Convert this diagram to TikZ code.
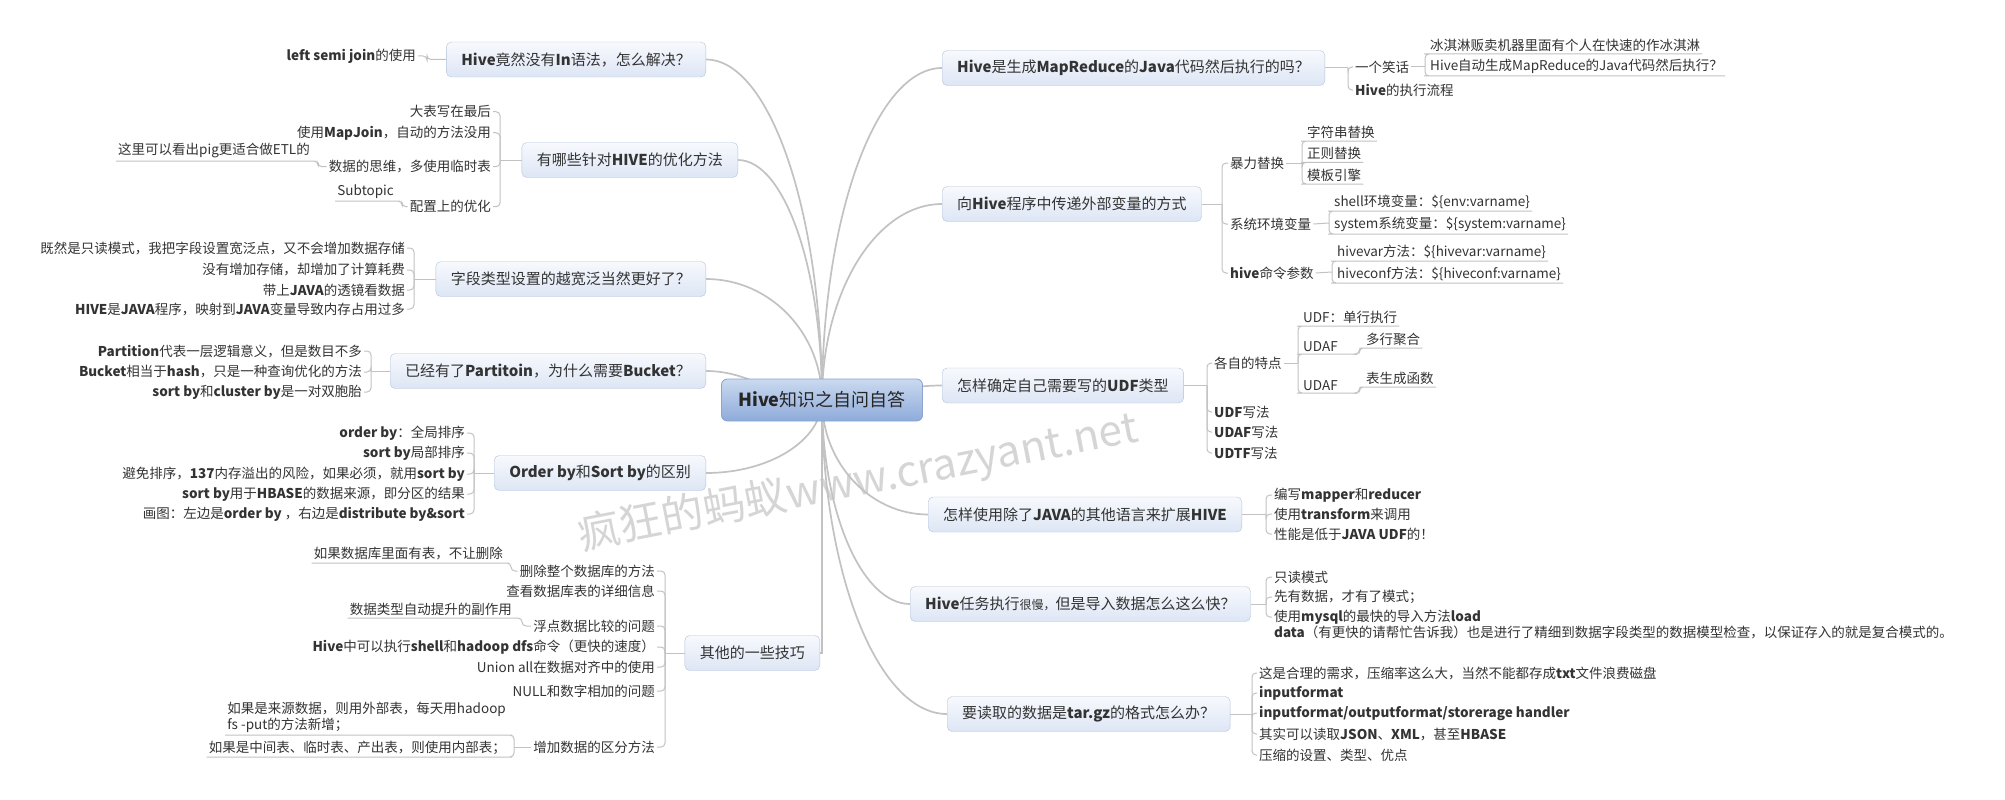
\documentclass[tikz,border=0pt]{standalone}
\usepackage{fontspec}
\setmainfont{Noto Sans CJK SC}
\usepackage{xcolor}
\definecolor{cText}{HTML}{333333}
\definecolor{cLine}{HTML}{C2C2C2}
\definecolor{cBoxTop}{HTML}{F7F9FD}
\definecolor{cBoxBot}{HTML}{DDE6F5}
\definecolor{cBoxLine}{HTML}{B5C4DB}
\definecolor{cRootTop}{HTML}{CAD9EF}
\definecolor{cRootBot}{HTML}{8EABDB}
\definecolor{cRootLine}{HTML}{8AA4CE}
\definecolor{cMark}{HTML}{C4C4C4}
\usetikzlibrary{positioning,calc,backgrounds}
\tikzset{
  node-root/.style={draw=cRootLine,thick,rounded corners=6pt,top color=cRootTop,
    bottom color=cRootBot,minimum height=42pt,inner xsep=17pt,
    font=\fontsize{18}{21}\selectfont,text=black!85},
  node-topic/.style={draw=cBoxLine,rounded corners=5pt,top color=cBoxTop,
    bottom color=cBoxBot,minimum height=35pt,inner xsep=15pt,
    font=\fontsize{15}{18}\selectfont,text=cText},
  node-leaf/.style={inner sep=2pt,font=\fontsize{13.5}{16}\selectfont,text=cText,align=left},
  node-ul/.style={node-leaf,inner ysep=2.5pt},
  branch/.style={draw=cLine,line width=1.7pt},
  twig/.style={draw=cLine,line width=1pt,rounded corners=4pt},
}
\newcommand{\kw}[1]{\textbf{#1}}
\begin{document}
\begin{tikzpicture}[x=1pt,y=1pt]
  \useasboundingbox (0,0) rectangle (2005,-800);
  % root and main topics
  \node[node-root] (root) at (822,-400) {\kw{Hive}知识之自问自答};
  \node[node-topic,anchor=east] (qIn) at (706,-59.5) {\kw{Hive}竟然没有\kw{In}语法，怎么解决？};
  \node[node-topic,anchor=east] (qOpt) at (738,-160) {有哪些针对\kw{HIVE}的优化方法};
  \node[node-topic,anchor=east] (qType) at (706,-279) {字段类型设置的越宽泛当然更好了？};
  \node[node-topic,anchor=east] (qBucket) at (706,-371) {已经有了\kw{Partitoin}，为什么需要\kw{Bucket}？};
  \node[node-topic,anchor=east] (qOrder) at (706,-473) {\kw{Order by}和\kw{Sort by}的区别};
  \node[node-topic,anchor=east] (qTips) at (820,-653) {其他的一些技巧};
  \node[node-topic,anchor=west] (qMR) at (942,-68) {\kw{Hive}是生成\kw{MapReduce}的\kw{Java}代码然后执行的吗？};
  \node[node-topic,anchor=west] (qVar) at (942,-204) {向\kw{Hive}程序中传递外部变量的方式};
  \node[node-topic,anchor=west] (qUdf) at (942,-385.5) {怎样确定自己需要写的\kw{UDF}类型};
  \node[node-topic,anchor=west] (qLang) at (928,-514.5) {怎样使用除了\kw{JAVA}的其他语言来扩展\kw{HIVE}};
  \node[node-topic,anchor=west] (qLoad) at (910,-604) {\kw{Hive}任务执行{\fontsize{12}{14}\selectfont 很慢，}但是导入数据怎么这么快？};
  \node[node-topic,anchor=west] (qGz) at (947,-714) {要读取的数据是\kw{tar.gz}的格式怎么办？};

  % left leaves
  \node[node-leaf,anchor=east] (inA) at (418,-56) {\kw{left semi join}的使用};

  \node[node-leaf,anchor=east] (optA) at (493,-111.7) {大表写在最后};
  \node[node-leaf,anchor=east] (optB) at (493,-132.7) {使用\kw{MapJoin}，自动的方法没用};
  \node[node-leaf,anchor=east] (optC) at (493,-166.7) {数据的思维，多使用临时表};
  \node[node-leaf,anchor=east] (optD) at (493,-206.7) {配置上的优化};
  \node[node-ul,anchor=south east] (optC1) at (312,-161) {这里可以看出pig更适合做ETL的};
  \node[node-ul,anchor=south east] (optD1) at (396,-201) {Subtopic};

  \node[node-leaf,anchor=east] (typeA) at (407,-248) {既然是只读模式，我把字段设置宽泛点，又不会增加数据存储};
  \node[node-leaf,anchor=east] (typeB) at (407,-270) {没有增加存储，却增加了计算耗费};
  \node[node-leaf,anchor=east] (typeC) at (407,-290) {带上\kw{JAVA}的透镜看数据};
  \node[node-leaf,anchor=east] (typeD) at (407,-309) {\kw{HIVE}是\kw{JAVA}程序，映射到\kw{JAVA}变量导致内存占用过多};

  \node[node-leaf,anchor=east] (bktA) at (364,-351) {\kw{Partition}代表一层逻辑意义，但是数目不多};
  \node[node-leaf,anchor=east] (bktB) at (364,-372) {\kw{Bucket}相当于\kw{hash}，只是一种查询优化的方法};
  \node[node-leaf,anchor=east] (bktC) at (364,-392) {\kw{sort by}和\kw{cluster by}是一对双胞胎};

  \node[node-leaf,anchor=east] (ordA) at (467,-433) {\kw{order by}：全局排序};
  \node[node-leaf,anchor=east] (ordB) at (467,-453) {\kw{sort by}局部排序};
  \node[node-leaf,anchor=east] (ordC) at (467,-474) {避免排序，\kw{137}内存溢出的风险，如果必须，就用\kw{sort by}};
  \node[node-leaf,anchor=east] (ordD) at (467,-494) {\kw{sort by}用于\kw{HBASE}的数据来源，即分区的结果};
  \node[node-leaf,anchor=east] (ordE) at (467,-514) {画图：左边是\kw{order by} ，右边是\kw{distribute by\&sort}};

  \node[node-leaf,anchor=east] (tipA) at (657,-571) {删除整个数据库的方法};
  \node[node-leaf,anchor=east] (tipB) at (657,-591) {查看数据库表的详细信息};
  \node[node-leaf,anchor=east] (tipC) at (657,-626) {浮点数据比较的问题};
  \node[node-leaf,anchor=east] (tipD) at (657,-647) {\kw{Hive}中可以执行\kw{shell}和\kw{hadoop dfs}命令（更快的速度）};
  \node[node-leaf,anchor=east] (tipE) at (657,-667) {Union all在数据对齐中的使用};
  \node[node-leaf,anchor=east] (tipF) at (657,-691) {NULL和数字相加的问题};
  \node[node-leaf,anchor=east] (tipG) at (657,-747) {增加数据的区分方法};
  \node[node-ul,anchor=south east] (tipA1) at (505,-563) {如果数据库里面有表，不让删除};
  \node[node-ul,anchor=south east] (tipC1) at (514,-618) {数据类型自动提升的副作用};
  \node[node-ul,anchor=south east] (tipG1) at (508,-735) {如果是来源数据，则用外部表，每天用hadoop\\fs -put的方法新增；};
  \node[node-ul,anchor=south east] (tipG2) at (508,-757) {如果是中间表、临时表、产出表，则使用内部表；};

  % right leaves
  \node[node-leaf,anchor=west] (mrA) at (1353,-67) {一个笑话};
  \node[node-leaf,anchor=west] (mrB) at (1353,-90) {\kw{Hive}的执行流程};
  \node[node-ul,anchor=south west] (mrA1) at (1428,-54) {冰淇淋贩卖机器里面有个人在快速的作冰淇淋};
  \node[node-ul,anchor=south west] (mrA2) at (1428,-76) {Hive自动生成MapReduce的Java代码然后执行？};

  \node[node-leaf,anchor=west] (varA) at (1228,-163) {暴力替换};
  \node[node-leaf,anchor=west] (varB) at (1228,-224) {系统环境变量};
  \node[node-leaf,anchor=west] (varC) at (1228,-273) {\kw{hive}命令参数};
  \node[node-ul,anchor=south west] (varA1) at (1305,-141) {字符串替换};
  \node[node-ul,anchor=south west] (varA2) at (1305,-162.3) {正则替换};
  \node[node-ul,anchor=south west] (varA3) at (1305,-184) {模板引擎};
  \node[node-ul,anchor=south west] (varB1) at (1332,-211) {shell环境变量：\$\{env:varname\}};
  \node[node-ul,anchor=south west] (varB2) at (1332,-234) {system系统变量：\$\{system:varname\}};
  \node[node-ul,anchor=south west] (varC1) at (1335,-261) {hivevar方法：\$\{hivevar:varname\}};
  \node[node-ul,anchor=south west] (varC2) at (1335,-283) {hiveconf方法：\$\{hiveconf:varname\}};

  \node[node-leaf,anchor=west] (udfA) at (1212,-363) {各自的特点};
  \node[node-leaf,anchor=west] (udfB) at (1212,-412) {\kw{UDF}写法};
  \node[node-leaf,anchor=west] (udfC) at (1212,-432) {\kw{UDAF}写法};
  \node[node-leaf,anchor=west] (udfD) at (1212,-453) {\kw{UDTF}写法};
  \node[node-ul,anchor=south west] (udfA1) at (1301,-326) {UDF：单行执行};
  \node[node-ul,anchor=south west,text width=52pt] (udfA2) at (1301,-354) {UDAF};
  \node[node-ul,anchor=south west,text width=52pt] (udfA3) at (1301,-393) {UDAF};
  \node[node-ul,anchor=south west] (udfA21) at (1364,-348) {多行聚合};
  \node[node-ul,anchor=south west] (udfA31) at (1364,-387) {表生成函数};

  \node[node-leaf,anchor=west] (langA) at (1272,-495) {编写\kw{mapper}和\kw{reducer}};
  \node[node-leaf,anchor=west] (langB) at (1272,-514) {使用\kw{transform}来调用};
  \node[node-leaf,anchor=west] (langC) at (1272,-534) {性能是低于\kw{JAVA UDF}的！};

  \node[node-leaf,anchor=west] (loadA) at (1272,-577) {只读模式};
  \node[node-leaf,anchor=west] (loadB) at (1272,-597) {先有数据，才有了模式；};
  \node[node-leaf,anchor=north west] (loadC) at (1272,-608) {使用\kw{mysql}的最快的导入方法\kw{load}\\\kw{data}（有更快的请帮忙告诉我）也是进行了精细到数据字段类型的数据模型检查，以保证存入的就是复合模式的。};

  \node[node-leaf,anchor=west] (gzA) at (1257,-673) {这是合理的需求，压缩率这么大，当然不能都存成\kw{txt}文件浪费磁盘};
  \node[node-leaf,anchor=west] (gzB) at (1257,-693) {\kw{inputformat}};
  \node[node-leaf,anchor=west] (gzC) at (1257,-713) {\kw{inputformat/outputformat/storerage handler}};
  \node[node-leaf,anchor=west] (gzD) at (1257,-734) {其实可以读取\kw{JSON}、\kw{XML}，甚至\kw{HBASE}};
  \node[node-leaf,anchor=west] (gzE) at (1257,-755) {压缩的设置、类型、优点};

  % trunks of the leaf brackets
  \coordinate (tIn) at (427,-59.5);
  \coordinate (tOpt) at (500,-160);
  \coordinate (tOptC) at (318,-166.7);
  \coordinate (tOptD) at (402,-206.7);
  \coordinate (tType) at (414,-279);
  \coordinate (tBucket) at (371,-371);
  \coordinate (tOrder) at (474,-473);
  \coordinate (tTips) at (665,-653);
  \coordinate (tTipA) at (511,-571);
  \coordinate (tTipC) at (522,-626);
  \coordinate (tTipG) at (514,-747);
  \coordinate (tMR) at (1348,-68);
  \coordinate (tMRA) at (1425,-67);
  \coordinate (tVar) at (1222,-204);
  \coordinate (tVarA) at (1302,-163);
  \coordinate (tVarB) at (1329,-223);
  \coordinate (tVarC) at (1332,-272);
  \coordinate (tUdf) at (1207,-385.5);
  \coordinate (tUdfA) at (1298,-363);
  \coordinate (tLang) at (1266,-514.5);
  \coordinate (tLoad) at (1266,-604);
  \coordinate (tGz) at (1252,-714);

  \begin{scope}[on background layer]
    \fill[white] (0,0) rectangle (2005,-800);
    % main branches
    \draw[branch] (root.center) .. controls +(0,187) and +(64,0) .. (qIn.east);
    \draw[branch] (root.center) .. controls +(0,132) and +(46,0) .. (qOpt.east);
    \draw[branch] (root.center) .. controls +(0,67) and +(64,0) .. (qType.east);
    \draw[branch] (root.center) to[out=180,in=0] (qBucket.east);
    \draw[branch] (root.center) .. controls +(0,-40) and +(64,0) .. (qOrder.east);
    \draw[branch] (root.center) |- (qTips.east);
    \draw[branch] (root.center) .. controls +(0,183) and +(-66,0) .. (qMR.west);
    \draw[branch] (root.center) .. controls +(0,108) and +(-66,0) .. (qVar.west);
    \draw[branch] (root.center) to[out=0,in=180] (qUdf.west);
    \draw[branch] (root.center) .. controls +(0,-63) and +(-58,0) .. (qLang.west);
    \draw[branch] (root.center) .. controls +(0,-112) and +(-48,0) .. (qLoad.west);
    \draw[branch] (root.center) .. controls +(0,-173) and +(-69,0) .. (qGz.west);

    % left brackets
    \draw[twig] (qIn.west) -- (tIn) |- (inA.east);
    \draw[twig] (qOpt.west) -- (tOpt);
    \foreach \n in {optA,optB,optC,optD} \draw[twig] (tOpt) |- (\n.east);
    \draw[twig] (optC.west) -- (tOptC) |- (optC1.south east) -- (optC1.south west);
    \draw[twig] (optD.west) -- (tOptD) |- (optD1.south east) -- (optD1.south west);
    \draw[twig] (qType.west) -- (tType);
    \foreach \n in {typeA,typeB,typeC,typeD} \draw[twig] (tType) |- (\n.east);
    \draw[twig] (qBucket.west) -- (tBucket);
    \foreach \n in {bktA,bktB,bktC} \draw[twig] (tBucket) |- (\n.east);
    \draw[twig] (qOrder.west) -- (tOrder);
    \foreach \n in {ordA,ordB,ordC,ordD,ordE} \draw[twig] (tOrder) |- (\n.east);
    \draw[twig] (qTips.west) -- (tTips);
    \foreach \n in {tipA,tipB,tipC,tipD,tipE,tipF,tipG} \draw[twig] (tTips) |- (\n.east);
    \draw[twig] (tipA.west) -- (tTipA) |- (tipA1.south east) -- (tipA1.south west);
    \draw[twig] (tipC.west) -- (tTipC) |- (tipC1.south east) -- (tipC1.south west);
    \draw[twig] (tipG.west) -- (tTipG);
    \foreach \n in {tipG1,tipG2} \draw[twig] (tTipG) |- (\n.south east) -- (\n.south west);

    % right brackets
    \draw[twig] (qMR.east) -- (tMR);
    \foreach \n in {mrA,mrB} \draw[twig] (tMR) |- (\n.west);
    \draw[twig] (mrA.east) -- (tMRA);
    \foreach \n in {mrA1,mrA2} \draw[twig] (tMRA) |- (\n.south west) -- (\n.south east);
    \draw[twig] (qVar.east) -- (tVar);
    \foreach \n in {varA,varB,varC} \draw[twig] (tVar) |- (\n.west);
    \draw[twig] (varA.east) -- (tVarA);
    \foreach \n in {varA1,varA2,varA3} \draw[twig] (tVarA) |- (\n.south west) -- (\n.south east);
    \draw[twig] (varB.east) -- (tVarB);
    \foreach \n in {varB1,varB2} \draw[twig] (tVarB) |- (\n.south west) -- (\n.south east);
    \draw[twig] (varC.east) -- (tVarC);
    \foreach \n in {varC1,varC2} \draw[twig] (tVarC) |- (\n.south west) -- (\n.south east);
    \draw[twig] (qUdf.east) -- (tUdf);
    \foreach \n in {udfA,udfB,udfC,udfD} \draw[twig] (tUdf) |- (\n.west);
    \draw[twig] (udfA.east) -- (tUdfA);
    \foreach \n in {udfA1,udfA2,udfA3} \draw[twig] (tUdfA) |- (\n.south west) -- (\n.south east);
    \draw[twig] (udfA2.south east) -- ++(2,0) |- (udfA21.south west) -- (udfA21.south east);
    \draw[twig] (udfA3.south east) -- ++(2,0) |- (udfA31.south west) -- (udfA31.south east);
    \draw[twig] (qLang.east) -- (tLang);
    \foreach \n in {langA,langB,langC} \draw[twig] (tLang) |- (\n.west);
    \draw[twig] (qLoad.east) -- (tLoad);
    \foreach \n in {loadA,loadB} \draw[twig] (tLoad) |- (\n.west);
    \draw[twig] (tLoad) |- ([yshift=-9pt]loadC.north west);
    \draw[twig] (qGz.east) -- (tGz);
    \foreach \n in {gzA,gzB,gzC,gzD,gzE} \draw[twig] (tGz) |- (\n.west);
  \end{scope}

  % watermark
  \node[rotate=11,text=cMark,opacity=.7,font=\fontsize{42.5}{43}\selectfont] (mark) at (858,-483) {疯狂的蚂蚁www.crazyant.net};
\end{tikzpicture}
\end{document}
